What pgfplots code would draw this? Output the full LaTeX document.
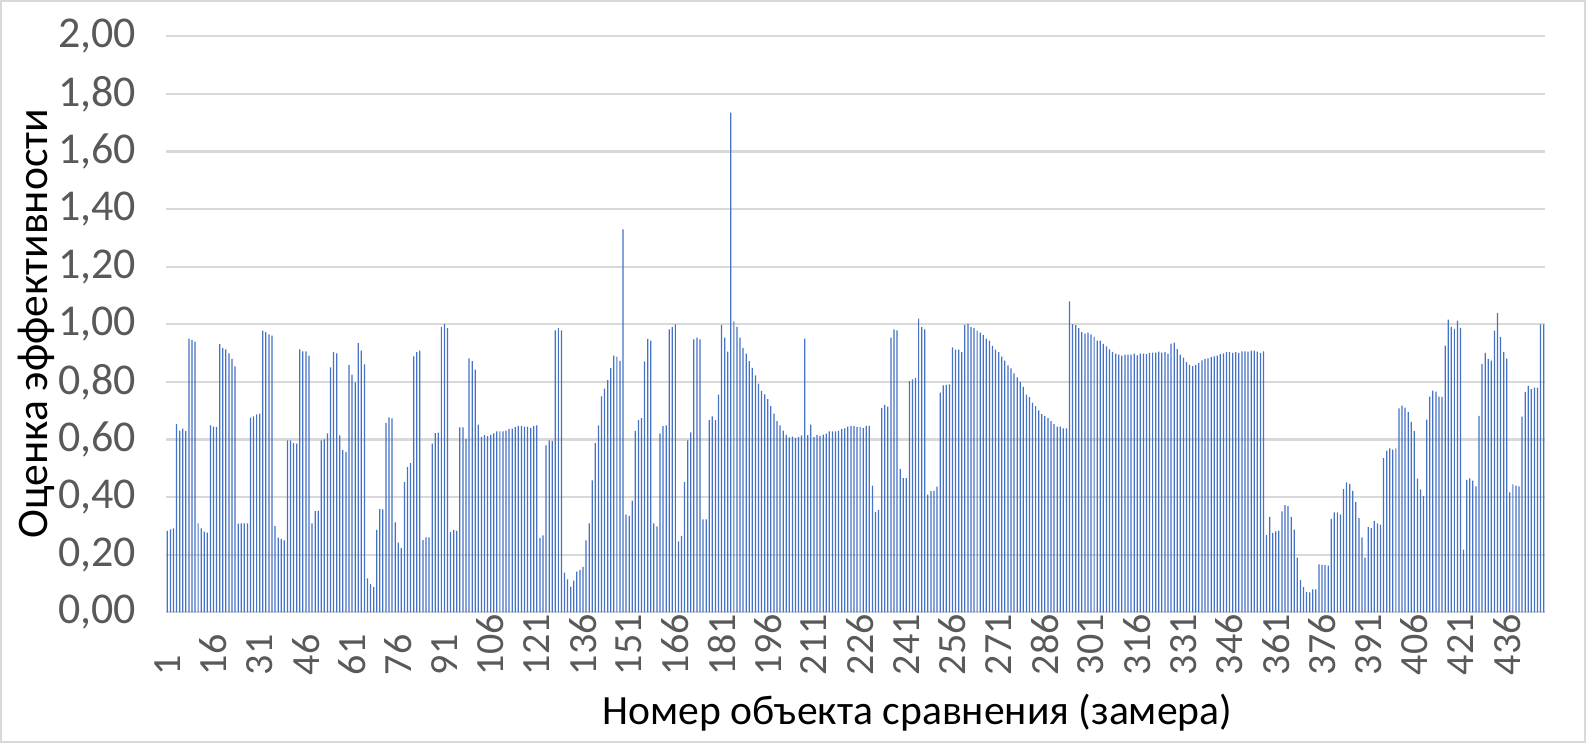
\documentclass[border=0pt]{standalone}
\usepackage{fontspec}
\setmainfont{Carlito}
\usepackage{pgfplots}
\usepackage{pgfplotstable}
\pgfplotsset{compat=1.18}
\definecolor{barblue}{HTML}{4472C4}
\definecolor{gridgray}{HTML}{D9D9D9}
\definecolor{txtgray}{HTML}{595959}
\pgfplotstableread[row sep=\\]{y\\
0.283\\ 0.288\\ 0.291\\ 0.653\\ 0.631\\ 0.638\\ 0.629\\ 0.950\\ 0.946\\ 0.940\\
0.309\\ 0.291\\ 0.280\\ 0.277\\ 0.649\\ 0.645\\ 0.644\\ 0.931\\ 0.917\\ 0.913\\
0.899\\ 0.880\\ 0.854\\ 0.308\\ 0.309\\ 0.309\\ 0.309\\ 0.676\\ 0.680\\ 0.687\\
0.690\\ 0.978\\ 0.973\\ 0.965\\ 0.961\\ 0.299\\ 0.259\\ 0.254\\ 0.250\\ 0.597\\
0.597\\ 0.587\\ 0.586\\ 0.913\\ 0.906\\ 0.906\\ 0.891\\ 0.309\\ 0.351\\ 0.353\\
0.597\\ 0.600\\ 0.621\\ 0.850\\ 0.903\\ 0.899\\ 0.614\\ 0.563\\ 0.557\\ 0.859\\
0.825\\ 0.798\\ 0.935\\ 0.909\\ 0.861\\ 0.118\\ 0.098\\ 0.087\\ 0.286\\ 0.358\\
0.357\\ 0.657\\ 0.677\\ 0.673\\ 0.312\\ 0.242\\ 0.223\\ 0.452\\ 0.505\\ 0.518\\
0.889\\ 0.903\\ 0.909\\ 0.251\\ 0.260\\ 0.260\\ 0.586\\ 0.622\\ 0.624\\ 0.990\\
1.001\\ 0.987\\ 0.279\\ 0.286\\ 0.283\\ 0.642\\ 0.642\\ 0.601\\ 0.882\\ 0.872\\
0.843\\ 0.652\\ 0.609\\ 0.615\\ 0.612\\ 0.616\\ 0.621\\ 0.628\\ 0.628\\ 0.628\\
0.631\\ 0.637\\ 0.638\\ 0.643\\ 0.647\\ 0.646\\ 0.645\\ 0.645\\ 0.640\\ 0.647\\
0.649\\ 0.258\\ 0.267\\ 0.580\\ 0.597\\ 0.595\\ 0.979\\ 0.987\\ 0.979\\ 0.138\\
0.114\\ 0.089\\ 0.110\\ 0.141\\ 0.147\\ 0.158\\ 0.250\\ 0.309\\ 0.458\\ 0.587\\
0.649\\ 0.750\\ 0.777\\ 0.806\\ 0.849\\ 0.891\\ 0.888\\ 0.873\\ 1.330\\ 0.339\\
0.335\\ 0.388\\ 0.630\\ 0.667\\ 0.674\\ 0.871\\ 0.949\\ 0.943\\ 0.309\\ 0.298\\
0.621\\ 0.646\\ 0.649\\ 0.982\\ 0.990\\ 1.000\\ 0.246\\ 0.265\\ 0.452\\ 0.597\\
0.625\\ 0.948\\ 0.954\\ 0.948\\ 0.323\\ 0.323\\ 0.667\\ 0.680\\ 0.667\\ 0.756\\
0.997\\ 0.954\\ 0.905\\ 1.735\\ 1.010\\ 0.991\\ 0.954\\ 0.918\\ 0.898\\ 0.872\\
0.849\\ 0.823\\ 0.794\\ 0.769\\ 0.757\\ 0.740\\ 0.716\\ 0.690\\ 0.664\\ 0.649\\
0.631\\ 0.616\\ 0.607\\ 0.610\\ 0.606\\ 0.608\\ 0.614\\ 0.950\\ 0.615\\ 0.652\\
0.608\\ 0.615\\ 0.613\\ 0.617\\ 0.620\\ 0.628\\ 0.628\\ 0.628\\ 0.631\\ 0.637\\
0.639\\ 0.645\\ 0.647\\ 0.646\\ 0.644\\ 0.644\\ 0.640\\ 0.647\\ 0.647\\ 0.440\\
0.349\\ 0.355\\ 0.709\\ 0.720\\ 0.714\\ 0.954\\ 0.982\\ 0.979\\ 0.498\\ 0.466\\
0.466\\ 0.803\\ 0.809\\ 0.814\\ 1.020\\ 0.990\\ 0.982\\ 0.409\\ 0.421\\ 0.422\\
0.436\\ 0.763\\ 0.788\\ 0.790\\ 0.791\\ 0.920\\ 0.912\\ 0.912\\ 0.903\\ 0.998\\
1.002\\ 0.990\\ 0.988\\ 0.978\\ 0.971\\ 0.962\\ 0.950\\ 0.943\\ 0.925\\ 0.912\\
0.903\\ 0.888\\ 0.874\\ 0.857\\ 0.847\\ 0.830\\ 0.816\\ 0.800\\ 0.783\\ 0.756\\
0.747\\ 0.728\\ 0.716\\ 0.701\\ 0.688\\ 0.682\\ 0.675\\ 0.664\\ 0.653\\ 0.645\\
0.645\\ 0.639\\ 0.639\\ 1.080\\ 1.001\\ 0.997\\ 0.987\\ 0.973\\ 0.968\\ 0.971\\
0.965\\ 0.956\\ 0.943\\ 0.943\\ 0.932\\ 0.923\\ 0.913\\ 0.904\\ 0.898\\ 0.895\\
0.891\\ 0.895\\ 0.895\\ 0.895\\ 0.898\\ 0.892\\ 0.898\\ 0.898\\ 0.896\\ 0.901\\
0.902\\ 0.902\\ 0.905\\ 0.902\\ 0.903\\ 0.898\\ 0.933\\ 0.936\\ 0.914\\ 0.895\\
0.884\\ 0.869\\ 0.859\\ 0.855\\ 0.859\\ 0.866\\ 0.875\\ 0.880\\ 0.882\\ 0.886\\
0.889\\ 0.891\\ 0.896\\ 0.899\\ 0.903\\ 0.903\\ 0.901\\ 0.903\\ 0.901\\ 0.906\\
0.906\\ 0.905\\ 0.909\\ 0.909\\ 0.905\\ 0.901\\ 0.906\\ 0.268\\ 0.331\\ 0.276\\
0.281\\ 0.284\\ 0.350\\ 0.372\\ 0.369\\ 0.331\\ 0.287\\ 0.190\\ 0.113\\ 0.087\\
0.071\\ 0.069\\ 0.080\\ 0.080\\ 0.166\\ 0.165\\ 0.164\\ 0.162\\ 0.324\\ 0.347\\
0.347\\ 0.340\\ 0.428\\ 0.451\\ 0.446\\ 0.422\\ 0.383\\ 0.327\\ 0.260\\ 0.190\\
0.297\\ 0.292\\ 0.317\\ 0.309\\ 0.304\\ 0.535\\ 0.561\\ 0.569\\ 0.565\\ 0.569\\
0.708\\ 0.718\\ 0.711\\ 0.695\\ 0.661\\ 0.629\\ 0.464\\ 0.427\\ 0.403\\ 0.669\\
0.749\\ 0.770\\ 0.766\\ 0.749\\ 0.748\\ 0.926\\ 1.016\\ 0.991\\ 0.984\\ 1.013\\
0.988\\ 0.218\\ 0.460\\ 0.465\\ 0.457\\ 0.437\\ 0.682\\ 0.862\\ 0.901\\ 0.879\\
0.874\\ 0.978\\ 1.040\\ 0.956\\ 0.904\\ 0.881\\ 0.416\\ 0.444\\ 0.440\\ 0.437\\
0.679\\ 0.765\\ 0.786\\ 0.775\\ 0.780\\ 0.780\\ 1.000\\ 1.000\\
}\datatable
\begin{document}
\begin{tikzpicture}
\useasboundingbox (-82.9pt,-65.35pt) rectangle (710.1pt,306.15pt);
\draw[gridgray, line width=0.75pt] (-82.5pt,-64.95pt) rectangle (709.7pt,305.75pt);
\begin{axis}[
  at={(0,0)}, anchor=south west,
  scale only axis, width=689.7pt, height=288pt,
  xmin=0.5, xmax=448.5, ymin=0, ymax=2,
  ytick={0,0.2,0.4,0.6,0.8,1,1.2,1.4,1.6,1.8,2},
  xtick={1,16,...,436},
  ymajorgrids, grid style={gridgray, line width=1.1pt},
  axis line style={draw=none},
  major tick length=0pt, tick style={draw=none},
  /pgf/number format/assume math mode=true,
  yticklabel style={/pgf/number format/.cd, fixed, fixed zerofill, precision=2, use comma, /tikz/.cd,
    anchor=east, inner sep=0pt, xshift=-14.6pt, font=\fontsize{22}{26}\selectfont, text=txtgray},
  xticklabel={\rotatebox{90}{\pgfmathprintnumber{\tick}}},
  xticklabel style={anchor=south, inner sep=0pt, yshift=-31.65pt, font=\fontsize{20}{24}\selectfont, text=txtgray},
  xlabel={Номер объекта сравнения (замера)},
  ylabel={Оценка эффективности},
  xlabel style={at={(axis description cs:0.545,-0.175)}, anchor=center, inner sep=0pt, font=\fontsize{20.8}{25}\selectfont, text=black},
  ylabel style={at={(axis description cs:-0.0938,0.501)}, anchor=center, inner sep=0pt, font=\fontsize{21.8}{26}\selectfont, text=black},
]
\addplot[ybar, fill=barblue, draw=none, bar width=0.62pt, bar shift=0pt] table[x expr=\coordindex+1, y=y] {\datatable};
\end{axis}
\end{tikzpicture}
\end{document}
